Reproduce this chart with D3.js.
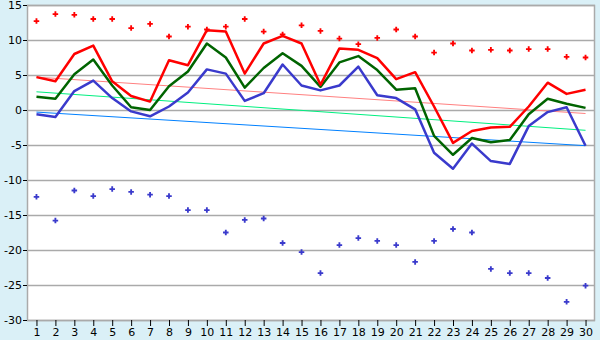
<!DOCTYPE html>
<html>
<head>
<meta charset="utf-8">
<script src="https://cdn.jsdelivr.net/npm/d3@7"></script>
<style>
  body { margin: 0; background: #daf0f7; }
  text { font-family: "DejaVu Sans", Verdana, sans-serif; font-size: 11px; fill: #000; }
</style>
</head>
<body>
<div id="chart"></div>
<script>
var days = d3.range(1, 31);
var dayMax = [4.7, 4.1, 8.0, 9.2, 4.1, 2.0, 1.2, 7.1, 6.4, 11.4, 11.2, 5.2, 9.5, 10.6, 9.5, 3.6, 8.8, 8.6, 7.4, 4.4, 5.4, 0.5, -4.7, -3.0, -2.5, -2.4, 0.5, 3.9, 2.3, 2.9];
var dayMean = [1.9, 1.6, 5.1, 7.2, 3.5, 0.4, 0.0, 3.4, 5.5, 9.5, 7.5, 3.2, 6.0, 8.1, 6.3, 3.3, 6.8, 7.7, 5.7, 2.9, 3.1, -3.7, -6.4, -4.0, -4.6, -4.3, -0.6, 1.6, 0.9, 0.3];
var dayMin = [-0.6, -1.0, 2.7, 4.2, 1.7, -0.2, -0.9, 0.5, 2.5, 5.8, 5.2, 1.3, 2.4, 6.5, 3.5, 2.8, 3.5, 6.2, 2.1, 1.7, 0.1, -6.1, -8.4, -4.8, -7.3, -7.7, -2.3, -0.3, 0.4, -5.1];
var recordMax = [12.7, 13.7, 13.6, 13.0, 13.0, 11.7, 12.3, 10.5, 11.9, 11.5, 11.9, 13.0, 11.2, 10.8, 12.1, 11.3, 10.2, 9.4, 10.3, 11.5, 10.5, 8.2, 9.5, 8.5, 8.6, 8.5, 8.7, 8.7, 7.6, 7.5];
var recordMin = [-12.4, -15.8, -11.5, -12.3, -11.3, -11.7, -12.1, -12.3, -14.3, -14.3, -17.5, -15.7, -15.5, -19.0, -20.3, -23.3, -19.3, -18.3, -18.7, -19.3, -21.7, -18.7, -17.0, -17.5, -22.7, -23.3, -23.3, -24.0, -27.4, -25.1];
// normal values, first and last day
var normalDays = [1, 30];
var normalMax = [4.7, -0.5];
var normalMean = [2.6, -2.9];
var normalMin = [-0.3, -5.1];
var yTicks = [-30, -25, -20, -15, -10, -5, 0, 5, 10, 15];

var margin = {top: 5, right: 5, bottom: 20, left: 27},
    width = 600 - margin.left - margin.right,
    height = 340 - margin.top - margin.bottom;

var x = d3.scalePoint()
    .domain(days)
    .range([0, width])
    .padding(0.5);

var y = d3.scaleLinear()
    .domain([-30, 15])
    .range([height, 0]);

var svg = d3.select("#chart").append("svg")
    .attr("width", 600)
    .attr("height", 340)
  .append("g")
    .attr("transform", "translate(" + margin.left + "," + margin.top + ")");

svg.append("rect")
    .attr("width", width)
    .attr("height", height)
    .style("fill", "white");

svg.selectAll(".grid")
    .data(yTicks)
    .enter()
    .append("line")
    .attr("class", "grid")
    .attr("x1", 0)
    .attr("x2", width)
    .attr("y1", function(d) { return Math.round(y(d)) + 0.5; })
    .attr("y2", function(d) { return Math.round(y(d)) + 0.5; })
    .style("stroke", "#aaaaaa")
    .style("stroke-width", 1.5);

svg.append("rect")
    .attr("x", 0.5)
    .attr("y", 0.5)
    .attr("width", width - 1)
    .attr("height", height)
    .style("fill", "none")
    .style("stroke", "#aaaaaa")
    .style("stroke-width", 1.5);

var line = d3.line()
    .x(function(d) { return x(d[0]); })
    .y(function(d) { return y(d[1]); });

function drawLine(xs, ys, color, w) {
  svg.append("path")
      .datum(xs.map(function(d, i) { return [d, ys[i]]; }))
      .attr("d", line)
      .style("fill", "none")
      .style("stroke", color)
      .style("stroke-width", w)
      .style("stroke-linejoin", "round");
}

drawLine(normalDays, normalMax, "#ff8080", 1);
drawLine(normalDays, normalMean, "#00f080", 1);
drawLine(normalDays, normalMin, "#0080ff", 1);

drawLine(days, dayMin, "#3a3acc", 2.5);
drawLine(days, dayMean, "#006400", 2.5);
drawLine(days, dayMax, "#ff0000", 2.5);

var marker = d3.symbol().type(d3.symbolCross).size(17);

function drawPoints(ys, color) {
  svg.selectAll(null)
      .data(days)
      .enter()
      .append("path")
      .attr("d", marker)
      .attr("transform", function(d, i) { return "translate(" + x(d) + "," + y(ys[i]) + ")"; })
      .style("fill", color);
}

drawPoints(recordMax, "#ff0000");
drawPoints(recordMin, "#3a3acc");

var xAxis = d3.axisBottom(x).tickSize(6).tickPadding(2);
var yAxis = d3.axisLeft(y).tickValues(yTicks).tickSize(4).tickPadding(1)
    .tickFormat(function(d) { return d; });

var gx = svg.append("g")
    .attr("transform", "translate(0," + height + ")")
    .call(xAxis);
gx.select(".domain").remove();

var gy = svg.append("g")
    .call(yAxis);
gy.select(".domain").remove();

svg.selectAll(".tick text").style("font-size", "11px");
</script>
</body>
</html>
